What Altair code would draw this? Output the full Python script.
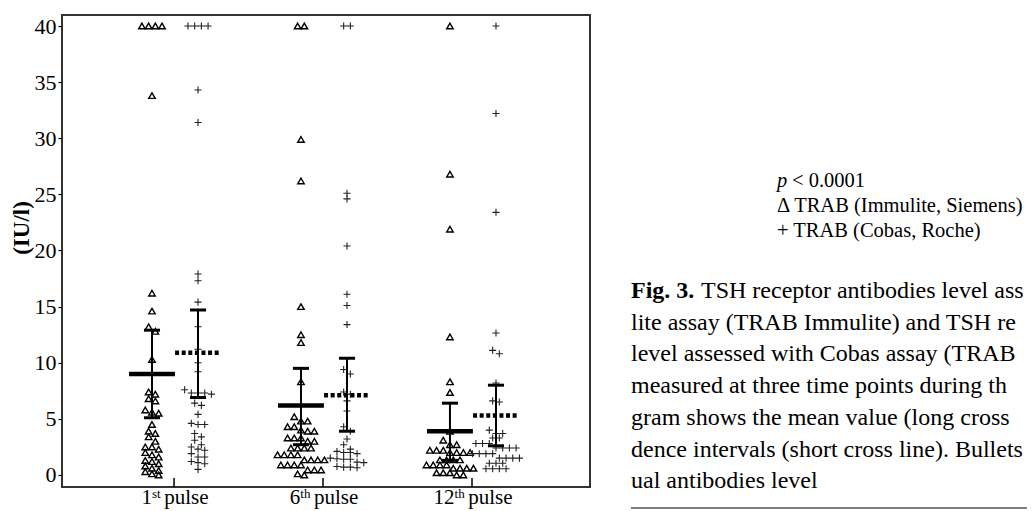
import altair as alt
import pandas as pd

# ---------------- data ----------------
pulse_numbers = ["1", "6", "12"]
pulse_sups = ["st", "th", "th"]
pulse_word = "pulse"
y_ticks = [0, 5, 10, 15, 20, 25, 30, 35, 40]

immulite_1 = [40, 40, 40, 40, 33.8, 16.2, 14.6, 13.2, 12.8, 10.3, 7.4, 7.2, 6.8, 6.6,
              5.8, 5.6, 5.5, 4.5, 3.9, 3.7, 3.4, 3.0, 2.5, 2.5, 2.3, 2.0, 1.8, 1.6,
              1.3, 1.2, 1.0, 0.8, 0.6, 0.4, 0.3, 0.1, 0.0]
cobas_1 = [40, 40, 40, 40, 34.3, 31.4, 17.9, 17.3, 15.4, 13.2, 11.2, 10.0, 9.2, 7.6,
           7.3, 7.3, 7.3, 7.2, 6.4, 6.2, 5.4, 4.6, 4.5, 4.5, 3.7, 3.4, 3.1, 2.7, 2.5,
           2.3, 2.2, 1.9, 1.6, 1.6, 1.2, 1.1, 1.0, 0.5]
immulite_6 = [40, 40, 29.9, 26.2, 15.0, 12.5, 11.8, 8.3, 5.2, 4.8, 4.8, 4.3, 4.3, 4.0,
              3.9, 3.9, 3.3, 3.3, 3.3, 3.0, 3.0, 2.4, 2.4, 2.4, 2.4, 1.8, 1.8, 1.8, 1.8,
              1.35, 1.35, 1.35, 1.35, 0.9, 0.9, 0.9, 0.9, 0.45, 0.45, 0.45, 0.1, 0.0]
cobas_6 = [40, 40, 25.1, 24.6, 20.4, 16.1, 15.1, 13.4, 9.4, 9.0, 7.4, 7.2, 6.6, 5.7,
           4.3, 3.9, 3.2, 2.7, 2.3, 2.1, 2.0, 2.0, 1.9, 1.5, 1.45, 1.4, 1.4, 1.15, 1.1,
           0.75, 0.7, 0.7, 0.65]
immulite_12 = [40, 26.8, 21.9, 12.3, 8.3, 7.35, 3.9, 3.1, 2.7, 2.7, 2.2, 2.2, 2.2, 2.0,
               2.0, 2.0, 2.0, 1.35, 1.35, 1.35, 1.35, 0.9, 0.9, 0.9, 0.9, 0.6, 0.6, 0.6,
               0.6, 0.2, 0.2, 0.2, 0.0, 0.0]
cobas_12 = [40, 32.2, 23.4, 12.65, 11.1, 10.8, 8.2, 6.6, 6.5, 4.0, 3.7, 3.7, 3.3, 3.3,
            2.8, 2.8, 2.8, 2.4, 2.4, 2.4, 2.4, 1.9, 1.9, 1.9, 1.9, 1.5, 1.5, 1.5, 1.5,
            1.05, 1.05, 1.05, 0.55, 0.55, 0.55, 0.55]

mean_immulite = [9.0, 6.2, 3.9]
ci_lo_immulite = [5.1, 2.7, 1.3]
ci_hi_immulite = [12.9, 9.5, 6.4]
mean_cobas = [10.9, 7.1, 5.3]
ci_lo_cobas = [6.9, 3.9, 2.6]
ci_hi_cobas = [14.7, 10.4, 8.0]

legend_lines = ["Δ TRAB (Immulite, Siemens)", "+ TRAB (Cobas, Roche)"]
caption_bold = "Fig. 3."
caption_lines = [
    "TSH receptor antibodies level ass",
    "lite assay (TRAB Immulite) and TSH re",
    "level assessed with Cobas assay (TRAB",
    "measured at three time points during th",
    "gram shows the mean value (long cross",
    "dence intervals (short cross line). Bullets",
    "ual antibodies level",
]

# ---------------- layout helpers ----------------
SERIF = "Liberation Serif"
X_MIN, X_MAX = 0.248, 3.792
Y_MIN, Y_MAX = -1.07, 40.98
OFF_IMM, OFF_COB = -0.148, 0.161
MEAN_HW, CAP_HW = 0.154, 0.054

xscale = alt.Scale(domain=[X_MIN, X_MAX], nice=False, zero=False)
yscale = alt.Scale(domain=[Y_MIN, Y_MAX], nice=False, zero=False)
yaxis = alt.Axis(values=y_ticks, title=None, grid=False, domain=False, ticks=True,
                 tickSize=4, tickColor="black", tickWidth=1.2, labelFont=SERIF,
                 labelFontSize=22, labelColor="black", labelPadding=2)


def X(f):
    return alt.X(f"{f}:Q", scale=xscale, axis=None)


def Y(f):
    return alt.Y(f"{f}:Q", scale=yscale, axis=yaxis)


def swarm(values, center, spacing=0.045, tol=0.45):
    vals = sorted(values, reverse=True)
    rows = []
    for v in vals:
        if rows and rows[-1][0] - v <= tol:
            rows[-1].append(v)
        else:
            rows.append([v])
    out = []
    for row in rows:
        n = len(row)
        for i, v in enumerate(row):
            out.append((center + (i - (n - 1) / 2) * spacing, v))
    return out


imm_groups = [immulite_1, immulite_6, immulite_12]
cob_groups = [cobas_1, cobas_6, cobas_12]

imm_rows, cob_rows = [], []
for i in range(3):
    c = i + 1
    for x, v in swarm(imm_groups[i], c + OFF_IMM):
        imm_rows.append({"x": x, "y": v})
    for x, v in swarm(cob_groups[i], c + OFF_COB):
        cob_rows.append({"x": x, "y": v})
df_imm = pd.DataFrame(imm_rows)
df_cob = pd.DataFrame(cob_rows)


def mean_df(means, off):
    return pd.DataFrame({"x": [i + 1 + off - MEAN_HW for i in range(3)],
                         "x2": [i + 1 + off + MEAN_HW for i in range(3)],
                         "y": means})


def ci_df(lo, hi, off):
    return pd.DataFrame({"x": [i + 1 + off for i in range(3)], "lo": lo, "hi": hi})


def cap_df(lo, hi, off):
    rows = []
    for i in range(3):
        c = i + 1 + off
        for v in (lo[i], hi[i]):
            rows.append({"x": c - CAP_HW, "x2": c + CAP_HW, "y": v})
    return pd.DataFrame(rows)


layers = []
layers.append(alt.Chart(df_imm).mark_point(shape="triangle-up", filled=False, stroke="black",
                                           strokeWidth=1.4, size=42, opacity=1)
              .encode(x=X("x"), y=Y("y")))
layers.append(alt.Chart(df_cob).mark_point(shape="M-1,0L1,0M0,-1L0,1", filled=False,
                                           stroke="#222", strokeWidth=1.1, size=50, opacity=1)
              .encode(x=X("x"), y=Y("y")))

for lo, hi, off in [(ci_lo_immulite, ci_hi_immulite, OFF_IMM), (ci_lo_cobas, ci_hi_cobas, OFF_COB)]:
    layers.append(alt.Chart(ci_df(lo, hi, off)).mark_rule(color="black", strokeWidth=2)
                  .encode(x=X("x"), y=Y("lo"), y2="hi"))
    layers.append(alt.Chart(cap_df(lo, hi, off)).mark_rule(color="black", strokeWidth=3, strokeCap="butt")
                  .encode(x=X("x"), x2="x2", y=Y("y")))

layers.append(alt.Chart(mean_df(mean_immulite, OFF_IMM)).mark_rule(color="black", strokeWidth=4.5, strokeCap="butt")
              .encode(x=X("x"), x2="x2", y=Y("y")))
layers.append(alt.Chart(mean_df(mean_cobas, OFF_COB)).mark_rule(color="black", strokeWidth=4.5, strokeCap="butt",
                                                                 strokeDash=[4, 2.6])
              .encode(x=X("x"), x2="x2", y=Y("y")))

# x tick marks (inward)
tick_df = pd.DataFrame({"x": [1, 2, 3], "y": [Y_MIN] * 3, "y2": [Y_MIN + 0.8] * 3})
layers.append(alt.Chart(tick_df).mark_rule(color="black", strokeWidth=1.5)
              .encode(x=X("x"), y=Y("y"), y2="y2"))

# x labels with superscripts
LBL = 21
SUP = 13
for i in range(3):
    num, sup = pulse_numbers[i], pulse_sups[i]
    numw = 0.5 * LBL * len(num)
    supw = (0.667 if sup == "st" else 0.778) * SUP
    gap = 3.5
    pw = 2.111 * LBL
    total = numw + supw + gap + pw
    start = -total / 2 + 1
    d = pd.DataFrame({"x": [i + 1]})
    layers.append(alt.Chart(d).mark_text(text=num, align="left", baseline="alphabetic", dx=start,
                                         font=SERIF, fontSize=LBL, color="black")
                  .encode(x=X("x"), y=alt.value(489)))
    layers.append(alt.Chart(d).mark_text(text=sup, align="left", baseline="alphabetic", dx=start + numw,
                                         font=SERIF, fontSize=SUP, color="black")
                  .encode(x=X("x"), y=alt.value(483)))
    layers.append(alt.Chart(d).mark_text(text=pulse_word, align="left", baseline="alphabetic",
                                         dx=start + numw + supw + gap,
                                         font=SERIF, fontSize=LBL, color="black")
                  .encode(x=X("x"), y=alt.value(489)))

# y title
one = pd.DataFrame({"a": [0]})
layers.append(alt.Chart(one).mark_text(text="(IU/l)", angle=270, align="center", baseline="middle",
                                       font=SERIF, fontSize=23, fontWeight="bold", color="black")
              .encode(x=alt.value(-40), y=alt.value(213)))

# legend block
LEG = 20.5
layers.append(alt.Chart(one).mark_text(text="p", align="left", baseline="alphabetic", font=SERIF,
                                       fontSize=LEG, fontStyle="italic", color="black")
              .encode(x=alt.value(715), y=alt.value(172)))
layers.append(alt.Chart(one).mark_text(text="< 0.0001", align="left", baseline="alphabetic", font=SERIF,
                                       fontSize=LEG, color="black")
              .encode(x=alt.value(730), y=alt.value(172)))
for k, line in enumerate(legend_lines):
    layers.append(alt.Chart(one).mark_text(text=line, align="left", baseline="alphabetic", font=SERIF,
                                           fontSize=LEG, color="black")
                  .encode(x=alt.value(715), y=alt.value(197 + 25 * k)))

# caption
CAP = 24
layers.append(alt.Chart(one).mark_text(text=caption_bold, align="left", baseline="alphabetic", font=SERIF,
                                       fontSize=CAP, fontWeight="bold", color="black")
              .encode(x=alt.value(569), y=alt.value(283)))
for k, line in enumerate(caption_lines):
    layers.append(alt.Chart(one).mark_text(text=line, align="left", baseline="alphabetic", font=SERIF,
                                           fontSize=CAP, color="black")
                  .encode(x=alt.value(639 if k == 0 else 569), y=alt.value(283 + 31.7 * k)))

layers.append(alt.Chart(one).mark_rule(color="#555", strokeWidth=1.5)
              .encode(x=alt.value(569), x2=alt.value(990), y=alt.value(493)))

chart = alt.layer(*layers).properties(
    width=528, height=472,
    autosize=alt.AutoSizeParams(type="none"),
    padding={"left": 54, "top": 7, "right": 437, "bottom": 22},
).configure_view(stroke="#333", strokeWidth=2)

chart.save("out.html", embed_options={"renderer": "svg", "actions": False})
